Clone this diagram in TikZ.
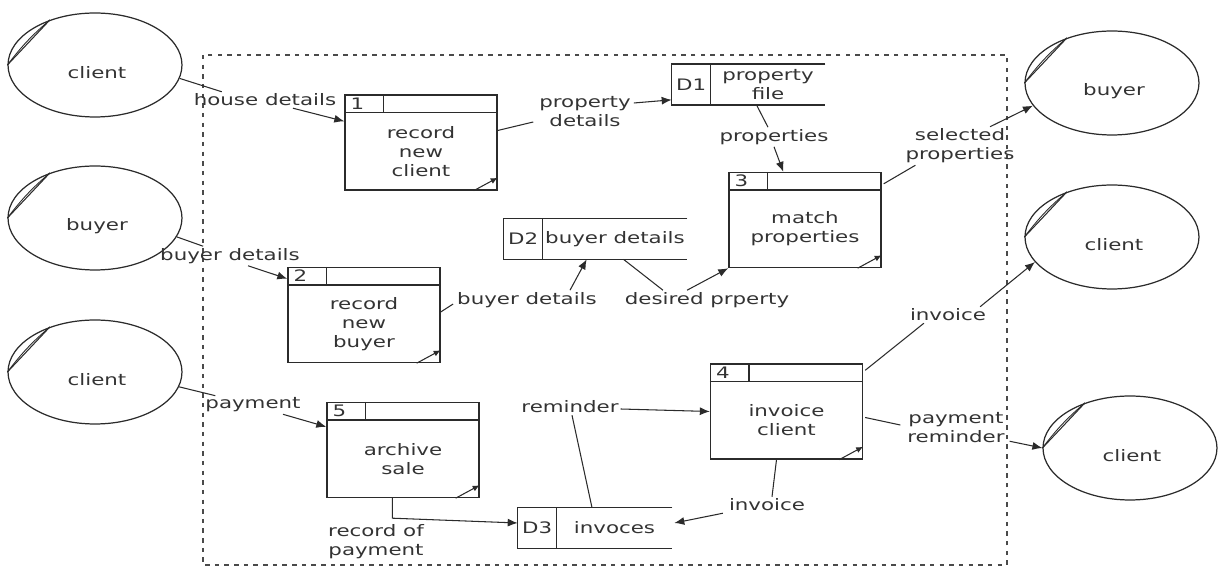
\documentclass[tikz,border=0pt]{standalone}
\usepackage{fontspec}
\setmainfont{DejaVu Sans}[FakeStretch=1.35]
\usetikzlibrary{arrows.meta,calc,shapes.geometric}
\definecolor{cLine}{HTML}{2B2B2B}
\definecolor{cText}{HTML}{333333}
\definecolor{cGrey}{HTML}{4A4A4A}
\tikzset{
  ent/.style={draw=cLine, ellipse, line width=0.7pt, minimum width=3.48cm,
              minimum height=2.08cm, inner sep=0pt},
  proc/.style={draw=cLine, line width=0.8pt, minimum width=3.04cm,
               minimum height=1.9cm, inner sep=0pt},
  store/.style={minimum height=0.8cm, inner sep=0pt},
  lbl/.style={inner sep=1pt, align=center, text=cText},
  txt/.style={inner sep=0pt, align=center, text=cText},
  pnum/.style={inner sep=0pt, anchor=west, text=cText},
  flow/.style={line width=0.6pt, cLine},
  arr/.style={-{Latex[length=2mm,width=1.6mm]}, line width=0.6pt, cLine},
  cmark/.style={-{Latex[length=1.4mm,width=1.2mm]}, line width=0.6pt, cLine},
  bnd/.style={dash pattern=on 2.5pt off 3pt, line width=0.8pt, cGrey}
}
% process box: name, centre, number, text
\newcommand{\procbox}[4]{%
  \node[proc] (#1) at (#2) {};
  \draw[line width=0.8pt, cLine] ($(#1.north west)+(0,18)$) -- ($(#1.north east)+(0,18)$);
  \draw[line width=0.8pt, cLine] ($(#1.north west)+(39,0)$) -- ($(#1.north west)+(39,18)$);
  \node[pnum] (#1n) at ($(#1.north west)+(6,9)$) {#3};
  \node[txt] (#1t) at ($(#1.center)+(0,9)$) {#4};
  \draw[cmark] ($(#1.south east)+(-24,0)$) -- ($(#1.south east)+(0,-13)$);
}
% data store: name, centre, width, id, text
\newcommand{\datastore}[5]{%
  \node[store, minimum width=#3] (#1) at (#2) {};
  \draw[line width=0.8pt, cLine] (#1.north east) -- (#1.north west) -- (#1.south west) -- (#1.south east);
  \draw[line width=0.8pt, cLine] ($(#1.north west)+(39,0)$) -- ($(#1.south west)+(39,0)$);
  \node[txt] (#1i) at ($(#1.west)+(19.5,0)$) {#4};
  \node[txt] (#1t) at ($(#1.center)+(19.5,0)$) {#5};
}
% external entity: name, centre, text
\newcommand{\extent}[3]{%
  \node[ent] (#1) at (#2) {};
  \draw[line width=0.6pt, cLine] (#1.180) -- (#1.135);
  \draw[line width=0.5pt, cLine] (#1.180) to[bend left=6] (#1.135);
  \node[txt] (#1t) at ($(#1.center)+(2,8)$) {#3};
}

\begin{document}
\begin{tikzpicture}[x=0.02cm, y=-0.02cm, font=\fontsize{9}{10.8}\selectfont]
\useasboundingbox (0,0) rectangle (1225,570);
% system boundary
\draw[bnd] (203,55) rectangle (1007,565);
% external entities
\extent{c1}{95,65}{client}
\extent{b1}{95,218}{buyer}
\extent{c2}{95,372}{client}
\extent{b2}{1112,83}{buyer}
\extent{c3}{1112,237}{client}
\extent{c4}{1130,448}{client}
% processes
\procbox{p1}{421,142.5}{1}{record\\new\\client}
\procbox{p2}{364,315}{2}{record\\new\\buyer}
\procbox{p3}{805,220}{3}{match\\properties}
\procbox{p4}{786.5,411.5}{4}{invoice\\client}
\procbox{p5}{403,450}{5}{archive\\sale}
% data stores
\datastore{d1}{748.5,84.5}{3.06cm}{D1}{property\\file}
\datastore{d2}{595.5,239}{3.66cm}{D2}{buyer details}
\datastore{d3}{595,528}{3.08cm}{D3}{invoces}
% flow labels
\node[lbl] (l1) at (265,100) {house details};
\node[lbl] (l2) at (585,112) {property\\details};
\node[lbl] (l3) at (774,137) {properties};
\node[lbl] (l4) at (960,146) {selected\\properties};
\node[lbl] (l5) at (230,256) {buyer details};
\node[lbl] (l6) at (527,300) {buyer details};
\node[lbl] (l7) at (707,300) {desired prperty};
\node[lbl] (l8) at (253,405) {payment};
\node[lbl] (l9) at (376,542) {record of\\payment};
\node[lbl] (l10) at (570,407) {reminder};
\node[lbl] (l11) at (767,505) {invoice};
\node[lbl] (l12) at (948,315) {invoice};
\node[lbl] (l13) at (956,428) {payment\\reminder};
% flows
\draw[flow] (c1.351) -- ($(l1.north west)+(30,0)$);
\draw[arr] ($(l1.south)+(28,0)$) -- ($(p1.north west)+(0,27)$);
\draw[flow] ($(p1.east)+(0,-12)$) -- ($(l2.west)+(-4,10)$);
\draw[arr] ($(l2.east)+(1,-9)$) -- ($(d1.south west)+(0,-5)$);
\draw[flow] ($(d1.south)+(8,0)$) -- ($(l3.north)+(-6,0)$);
\draw[arr] (l3.south) -- ($(p3.north west)+(55,0)$);
\draw[flow] ($(p3.north east)+(2,12)$) -- ($(l4.south west)+(12,0)$);
\draw[arr] ($(l4.north)+(30,0)$) -- (b2.196);
\draw[flow] (b1.347) -- ($(l5.north west)+(45,0)$);
\draw[arr] ($(l5.south)+(18,0)$) -- ($(p2.north west)+(0,12)$);
\draw[flow] ($(p2.east)+(0,-3)$) -- ($(l6.west)+(-2,4)$);
\draw[arr] ($(l6.north)+(43,0)$) -- ($(d2.south west)+(83,0)$);
\draw[flow] ($(d2.south)+(28,0)$) -- ($(l7.north)+(-44,0)$);
\draw[arr] ($(l7.north)+(-20,0)$) -- (p3.south west);
\draw[flow] (c2.350) -- ($(l8.north west)+(12,0)$);
\draw[arr] ($(l8.south)+(30,0)$) -- ($(p5.north west)+(0,25)$);
\draw[arr] ($(p5.south west)+(66,0)$) -- ++(0,20) -- ($(d3.west)+(0,-5)$);
\draw[flow] ($(d3.north)+(-3,0)$) -- ($(l10.south)+(2,0)$);
\draw[arr] ($(l10.east)+(0,2)$) -- (p4.west);
\draw[flow] ($(p4.south)+(-10,0)$) -- ($(l11.north)+(5,0)$);
\draw[arr] ($(l11.south west)+(-4,0)$) -- ($(d3.east)+(2,-5)$);
\draw[flow] ($(p4.north east)+(2,7)$) -- ($(l12.south west)+(16,0)$);
\draw[arr] ($(l12.north east)+(-8,0)$) -- (c3.198);
\draw[flow] ($(p4.east)+(2,6)$) -- ($(l13.west)+(-5,-3)$);
\draw[arr] ($(l13.south east)+(3,-4)$) -- (c4.west);
\end{tikzpicture}
\end{document}
